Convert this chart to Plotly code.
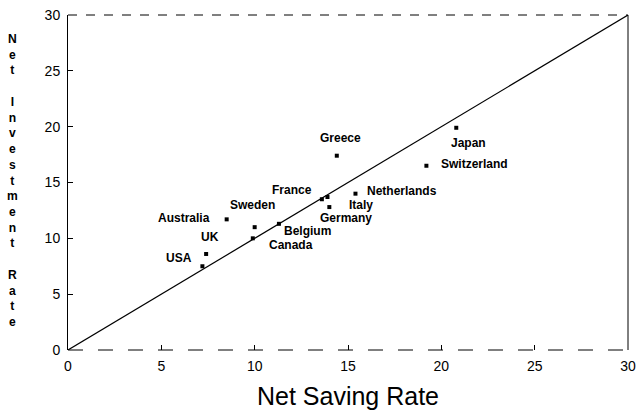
import plotly.graph_objects as go

countries = ["USA", "UK", "Australia", "Sweden", "Canada", "Belgium", "France",
             "Italy", "Germany", "Greece", "Netherlands", "Switzerland", "Japan"]
saving = [7.2, 7.4, 8.5, 10.0, 9.9, 11.3, 13.6, 13.9, 14.0, 14.4, 15.4, 19.2, 20.8]
investment = [7.5, 8.6, 11.7, 11.0, 10.0, 11.3, 13.5, 13.7, 12.8, 17.4, 14.0, 16.5, 19.9]
# label offsets in pixels (x, y) relative to each point
label_shift = {
    "USA": (-23, 8), "UK": (4, 17), "Australia": (-43, 1), "Sweden": (-2, 22),
    "Canada": (38, -7), "Belgium": (29, -7), "France": (-30, 9),
    "Italy": (34, -8), "Germany": (17, -11), "Greece": (4, 18),
    "Netherlands": (47, 3), "Switzerland": (48, 2), "Japan": (12, -15),
}
ticks = [0, 5, 10, 15, 20, 25, 30]
diag = [0, 30]
FONT = "Liberation Sans"

fig = go.Figure()
fig.add_trace(go.Scatter(x=diag, y=diag, mode="lines",
                         line=dict(color="black", width=1.2), hoverinfo="skip"))
fig.add_trace(go.Scatter(x=saving, y=investment, mode="markers",
                         marker=dict(symbol="square", size=4, color="black")))

for c, xv, yv in zip(countries, saving, investment):
    dx, dy = label_shift[c]
    fig.add_annotation(x=xv, y=yv, xref="x", yref="y", text="<b>" + c + "</b>",
                       showarrow=False, xshift=dx, yshift=dy,
                       font=dict(family=FONT, size=12, color="black"))

ytitle = "<br>".join(list("Net")) + "<br> <br>" + "<br>".join(list("Investment")) + \
    "<br> <br>" + "<br>".join(list("Rate"))
fig.add_annotation(xref="paper", yref="paper", x=-0.1, y=0.505, text="<b>" + ytitle + "</b>",
                   showarrow=False, xanchor="center", yanchor="middle",
                   font=dict(family=FONT, size=12.1, color="black"))

# frame: solid left/right, dashed top/bottom
fig.add_shape(type="line", xref="paper", yref="paper", x0=0, x1=1, y0=1, y1=1,
              line=dict(color="black", width=1, dash="dash"))
fig.add_shape(type="line", xref="paper", yref="paper", x0=0, x1=1, y0=0, y1=0,
              line=dict(color="black", width=1, dash="longdash"))
fig.add_shape(type="line", xref="paper", yref="paper", x0=1, x1=1, y0=0, y1=1,
              line=dict(color="black", width=1))

fig.update_xaxes(range=[0, 30], tickvals=ticks, ticks="inside", ticklen=5,
                 tickcolor="black", showline=False, automargin=False,
                 ticklabeloverflow="allow", ticklabelstandoff=6,
                 showgrid=False, zeroline=False, tickprefix="<b>", ticksuffix="</b>",
                 tickfont=dict(family=FONT, size=14, color="black"),
                 title=dict(text="Net Saving Rate", standoff=14,
                            font=dict(family=FONT, size=25, color="black")))
fig.update_yaxes(range=[0, 30], tickvals=ticks, ticks="inside", ticklen=5,
                 tickcolor="black", showline=True, linecolor="black", linewidth=1,
                 automargin=False, ticklabeloverflow="allow", ticklabelstandoff=4,
                 showgrid=False, zeroline=False,
                 tickprefix="<b>", ticksuffix="</b>",
                 tickfont=dict(family=FONT, size=14, color="black"))

fig.update_layout(width=640, height=412, showlegend=False,
                  plot_bgcolor="white", paper_bgcolor="white",
                  margin=dict(l=68, r=12, t=15, b=62))
# remove the page's default body margin so the figure fills the window exactly
fig.write_html("out.html", config={"displayModeBar": False},
               post_script="document.body.style.margin='0';document.body.style.overflow='hidden';")
